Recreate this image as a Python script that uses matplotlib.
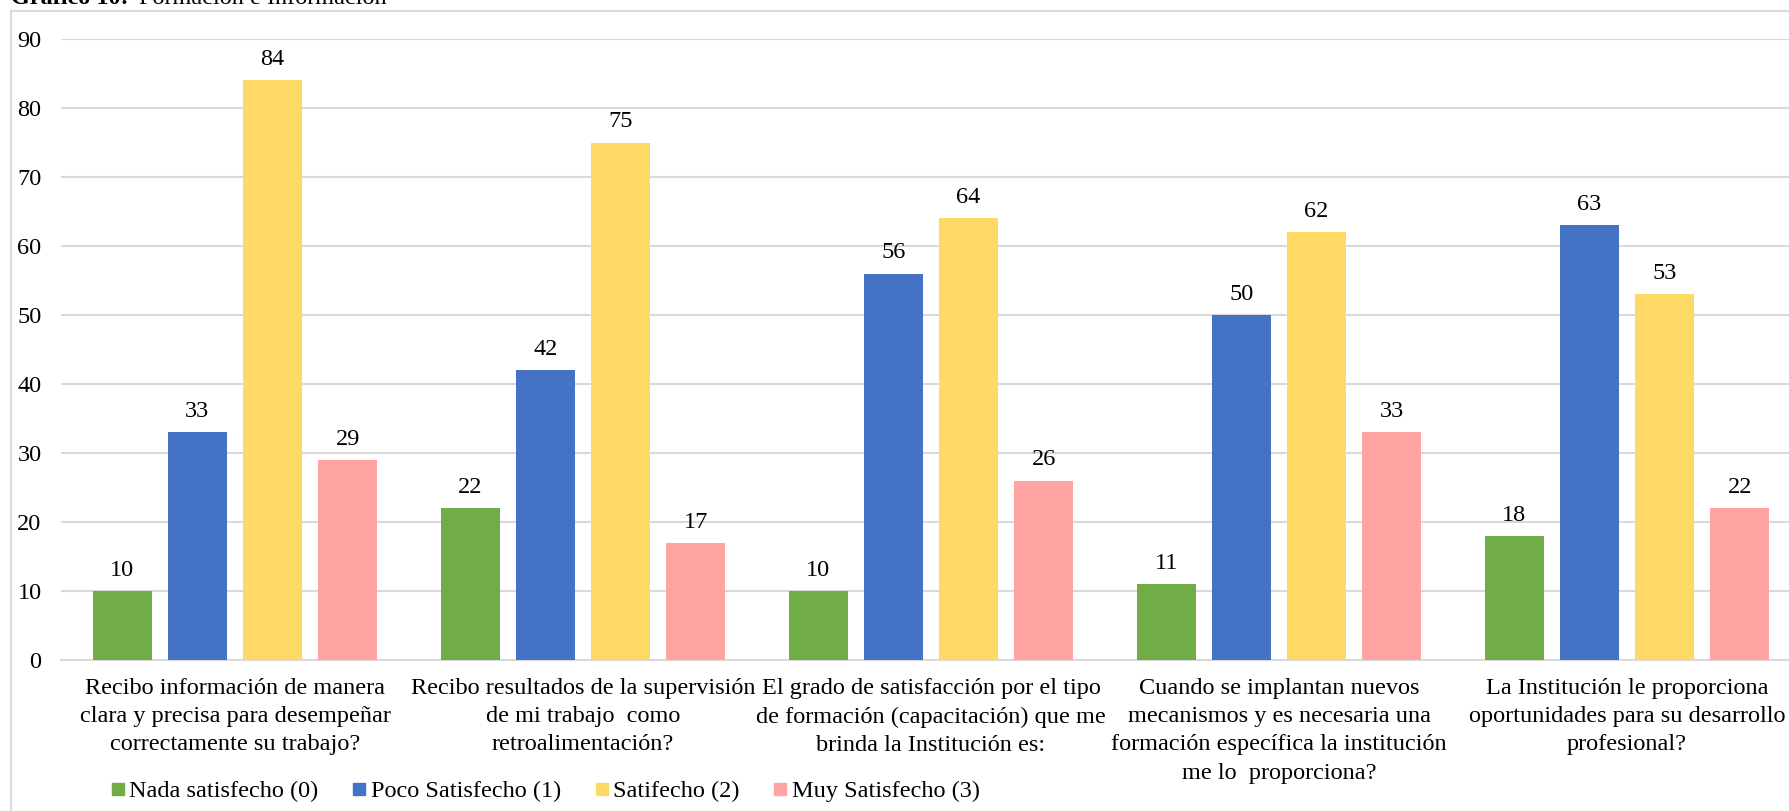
import numpy as np
import matplotlib.pyplot as plt
from matplotlib.lines import Line2D

categories = [
    "Recibo información de manera\nclara y precisa para desempeñar\ncorrectamente su trabajo?",
    "Recibo resultados de la supervisión\nde mi trabajo  como\nretroalimentación?",
    "El grado de satisfacción por el tipo\nde formación (capacitación) que me\nbrinda la Institución es:",
    "Cuando se implantan nuevos\nmecanismos y es necesaria una\nformación específica la institución\nme lo  proporciona?",
    "La Institución le proporciona\noportunidades para su desarrollo\nprofesional?",
]
series_names = ["Nada satisfecho (0)", "Poco Satisfecho (1)", "Satifecho (2)", "Muy Satisfecho (3)"]
nada = [10, 22, 10, 11, 18]
poco = [33, 42, 56, 50, 63]
satisfecho = [84, 75, 64, 62, 53]
muy = [29, 17, 26, 33, 22]
colors = ["#70AD47", "#4472C4", "#FFD966", "#FFA3A3"]

plt.rcParams['font.family'] = ['Liberation Serif', 'DejaVu Serif']
fs = 17.5

fig = plt.figure(figsize=(17.89, 8.11), dpi=100)
ax = fig.add_axes([61 / 1789, 1 - 660 / 811, 1740 / 1789, (660 - 39) / 811])

x = np.arange(len(categories))
step = 0.216
width = 0.17
for i, (vals, name, c) in enumerate(zip([nada, poco, satisfecho, muy], series_names, colors)):
    pos = x + (i - 1.5) * step
    bars = ax.bar(pos, vals, width=width, color=c, label=name, zorder=3)
    for b, v in zip(bars, vals):
        ax.text(b.get_x() + b.get_width() / 2, v + 2.2, str(v), ha='center', va='baseline', fontsize=fs)

ax.set_xlim(-0.5, len(categories) - 0.5)
ax.set_ylim(0, 90)
ax.set_yticks(range(0, 91, 10))
ax.set_xticks(x)
ax.set_xticklabels(categories, fontsize=fs)
for lbl in ax.get_xticklabels():
    lbl.set_linespacing(1.45)
ax.tick_params(axis='y', labelsize=fs, length=0, pad=14)
ax.tick_params(axis='x', length=0, pad=13)
ax.grid(axis='y', color='#D9D9D9', linewidth=1.5, zorder=0)
for s in ['top', 'right', 'left']:
    ax.spines[s].set_visible(False)
ax.spines['bottom'].set_color('#D9D9D9')
ax.spines['bottom'].set_linewidth(1.5)

handles = [Line2D([], [], marker='s', linestyle='', markersize=9, color=c) for c in colors]
fig.legend(handles, series_names, loc='center left', bbox_to_anchor=(111 / 1789, 1 - 791 / 811),
           ncol=4, frameon=False, fontsize=fs, handletextpad=0.2, columnspacing=1.4,
           handlelength=0.55, borderpad=0, borderaxespad=0)

# outer frame (cropped)
fig.add_artist(Line2D([11 / 1789, 11 / 1789], [0, 1 - 11 / 811], color='#D9DCE3', linewidth=1.5))
fig.add_artist(Line2D([11 / 1789, 1], [1 - 11 / 811, 1 - 11 / 811], color='#D9DCE3', linewidth=1.5))

# cropped title
fig.text(11 / 1789, 1 - 4 / 811, "Gráfico 10:", fontsize=fs, fontweight='bold', va='baseline', ha='left')
fig.text(139 / 1789, 1 - 4 / 811, "Formación e Información", fontsize=fs, va='baseline', ha='left')

fig.savefig('out.png', dpi=100)
